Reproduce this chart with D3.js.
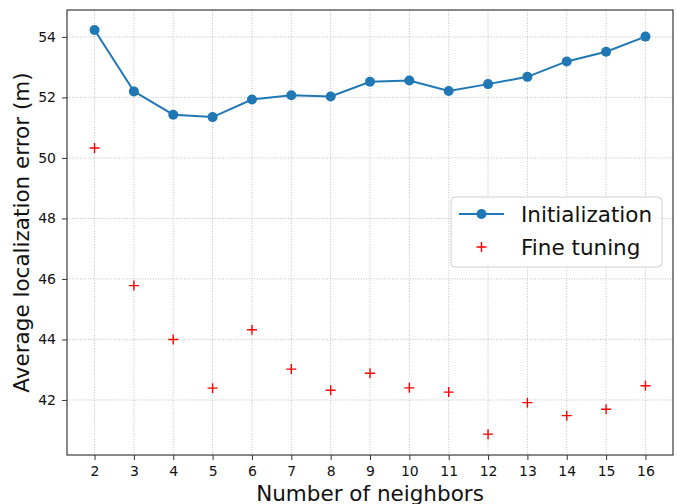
<!DOCTYPE html>
<html>
<head>
<meta charset="utf-8">
<script src="https://cdn.jsdelivr.net/npm/d3@7"></script>
<style>
  body { margin: 0; background: #fff; }
  text { font-family: "DejaVu Sans", sans-serif; }
</style>
</head>
<body>
<svg id="chart" width="677" height="504"></svg>
<script>
// number of neighbors
const neighbors = [2, 3, 4, 5, 6, 7, 8, 9, 10, 11, 12, 13, 14, 15, 16];
const initialization = [54.23, 52.2, 51.43, 51.35, 51.93, 52.07, 52.03, 52.52, 52.56, 52.21, 52.44, 52.68, 53.19, 53.51, 54.01];
const fineTuning = [50.33, 45.78, 44.0, 42.39, 44.32, 43.02, 42.32, 42.88, 42.40, 42.26, 40.87, 41.91, 41.48, 41.69, 42.47];
const yTicks = [42, 44, 46, 48, 50, 52, 54];

let svg = d3.select("svg#chart"),
margin = { top: 10, right: 4, bottom: 49, left: 67 },
width = svg.attr("width") - margin.left - margin.right,
height = svg.attr("height") - margin.top - margin.bottom,
g = svg.append("g").attr("transform", `translate(${margin.left},${margin.top})`);

var x = d3.scaleLinear().domain([1.3, 16.7]).range([0, width]),
y = d3.scaleLinear().domain([40.18, 54.89]).range([height, 0]);

// grid
g.append("g")
  .selectAll("line")
  .data(neighbors)
  .enter().append("line")
  .attr("x1", d => x(d)).attr("x2", d => x(d))
  .attr("y1", 0).attr("y2", height)
  .attr("stroke", "#b0b0b0").attr("stroke-width", 0.8)
  .attr("stroke-dasharray", "1,1.6");
g.append("g")
  .selectAll("line")
  .data(yTicks)
  .enter().append("line")
  .attr("y1", d => y(d)).attr("y2", d => y(d))
  .attr("x1", 0).attr("x2", width)
  .attr("stroke", "#b0b0b0").attr("stroke-width", 0.8)
  .attr("stroke-dasharray", "1,1.6");

var xAxis = d3.axisBottom(x).tickValues(neighbors).tickSize(5).tickPadding(6).tickSizeOuter(0);
var yAxis = d3.axisLeft(y).tickValues(yTicks).tickSize(5).tickPadding(6).tickSizeOuter(0);

g.append("g")
  .attr("transform", "translate(0," + height + ")")
  .call(xAxis)
  .call(a => a.select(".domain").remove())
  .selectAll("text").attr("font-size", 14).attr("fill", "#111").attr("font-family", "DejaVu Sans");
g.append("g")
  .call(yAxis)
  .call(a => a.select(".domain").remove())
  .selectAll("text").attr("font-size", 14).attr("fill", "#111").attr("font-family", "DejaVu Sans");
g.selectAll(".tick line").attr("stroke", "#333");

// frame
g.append("rect")
  .attr("width", width).attr("height", height)
  .attr("fill", "none").attr("stroke", "#3a3a3a").attr("stroke-width", 1.2);

// initialization line
var line = d3.line()
  .x((d, i) => x(neighbors[i]))
  .y(d => y(d));
g.append("path")
  .datum(initialization)
  .attr("d", line)
  .attr("fill", "none")
  .attr("stroke", "#1f77b4")
  .attr("stroke-width", 2);
g.selectAll(".dot")
  .data(initialization)
  .enter().append("circle")
  .attr("class", "dot")
  .attr("cx", (d, i) => x(neighbors[i]))
  .attr("cy", d => y(d))
  .attr("r", 5)
  .attr("fill", "#1f77b4");

// fine tuning plus markers
g.selectAll(".plus")
  .data(fineTuning)
  .enter().append("path")
  .attr("class", "plus")
  .attr("d", "M-5,0H5M0,-5V5")
  .attr("transform", (d, i) => `translate(${x(neighbors[i])},${y(d)})`)
  .attr("stroke", "red")
  .attr("stroke-width", 1.4)
  .attr("fill", "none");

// legend
var leg = svg.append("g").attr("transform", "translate(451,197)");
leg.append("rect")
  .attr("width", 211).attr("height", 70).attr("rx", 4)
  .attr("fill", "rgba(255,255,255,0.85)")
  .attr("stroke", "#d0d0d0").attr("stroke-width", 1);
leg.append("line")
  .attr("x1", 8).attr("x2", 53).attr("y1", 17).attr("y2", 17)
  .attr("stroke", "#1f77b4").attr("stroke-width", 2);
leg.append("circle").attr("cx", 30.5).attr("cy", 17).attr("r", 5).attr("fill", "#1f77b4");
leg.append("path")
  .attr("d", "M-5,0H5M0,-5V5")
  .attr("transform", "translate(30.5,50)")
  .attr("stroke", "red").attr("stroke-width", 1.4);
leg.append("text").attr("x", 70).attr("y", 25).attr("font-size", 21.5).attr("fill", "#111").text("Initialization");
leg.append("text").attr("x", 70).attr("y", 58).attr("font-size", 21.5).attr("fill", "#111").text("Fine tuning");

// axis labels
svg.append("text")
  .attr("x", margin.left + width / 2).attr("y", 501)
  .attr("text-anchor", "middle")
  .attr("font-size", 21.5).attr("fill", "#111")
  .text("Number of neighbors");
svg.append("text")
  .attr("transform", `translate(28.5,${margin.top + height / 2}) rotate(-90)`)
  .attr("text-anchor", "middle")
  .attr("font-size", 21.5).attr("fill", "#111")
  .text("Average localization error (m)");
</script>
</body>
</html>
